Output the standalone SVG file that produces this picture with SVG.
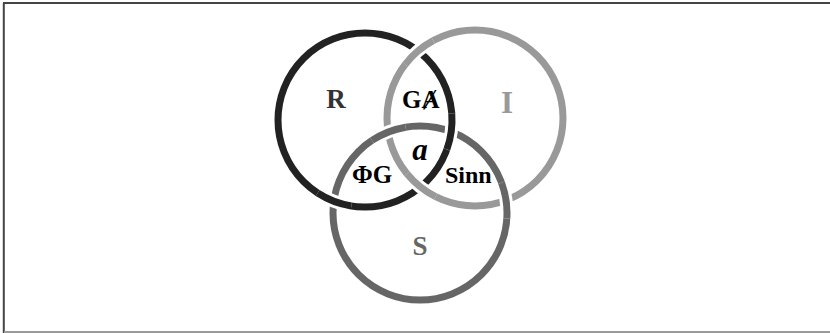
<svg xmlns="http://www.w3.org/2000/svg" width="830" height="333" viewBox="0 0 830 333">
<style>
.ring{fill:none;stroke-width:7}
.halo{fill:none;stroke:#fff;stroke-width:13}
.r{stroke:#222}
.i{stroke:#999}
.s{stroke:#666}
.lbl{font-family:"Liberation Serif","DejaVu Serif",serif;font-weight:bold}
</style>
<rect x="0" y="0" width="830" height="333" fill="#fff"/>
<g id="frame">
<line x1="3" y1="3" x2="830" y2="3" stroke="#444" stroke-width="2"/>
<line x1="3.8" y1="3" x2="3.8" y2="333" stroke="#444" stroke-width="2"/>
<line x1="4" y1="332" x2="830" y2="332" stroke="#999" stroke-width="2"/>
</g>
<g id="connectors">
<circle class="ring s" cx="420" cy="213" r="87"/>
<circle class="ring r" cx="365" cy="120" r="87"/>
<circle class="ring i" cx="475" cy="118" r="88"/>
<!-- I over R -->
<circle class="halo" r="88" stroke-dasharray="36.9 600" transform="translate(475 118) rotate(217.6)"/>
<circle class="ring i" r="88" stroke-dasharray="36.9 600" transform="translate(475 118) rotate(217.6)"/>
<circle class="halo" r="88" stroke-dasharray="36.9 600" transform="translate(475 118) rotate(116.6)"/>
<circle class="ring i" r="88" stroke-dasharray="36.9 600" transform="translate(475 118) rotate(116.6)"/>
<!-- R over S -->
<circle class="halo" r="87" stroke-dasharray="36.4 600" transform="translate(365 120) rotate(99)"/>
<circle class="ring r" r="87" stroke-dasharray="36.4 600" transform="translate(365 120) rotate(99)"/>
<circle class="halo" r="87" stroke-dasharray="36.4 600" transform="translate(365 120) rotate(-4.2)"/>
<circle class="ring r" r="87" stroke-dasharray="36.4 600" transform="translate(365 120) rotate(-4.2)"/>
<!-- S over I -->
<circle class="halo" r="87" stroke-dasharray="36.4 600" transform="translate(420 213) rotate(236.5)"/>
<circle class="ring s" r="87" stroke-dasharray="36.4 600" transform="translate(420 213) rotate(236.5)"/>
<circle class="halo" r="87" stroke-dasharray="36.4 600" transform="translate(420 213) rotate(-20.4)"/>
<circle class="ring s" r="87" stroke-dasharray="36.4 600" transform="translate(420 213) rotate(-20.4)"/>
</g>
<g id="node-R"><text class="lbl" x="336" y="108" font-size="27" fill="#333" text-anchor="middle">R</text></g>
<g id="node-I"><text class="lbl" x="507" y="113" font-size="31" fill="#999" text-anchor="middle">I</text></g>
<g id="node-S"><text class="lbl" x="420" y="255" font-size="27" fill="#666" text-anchor="middle">S</text></g>
<g id="node-GA"><text class="lbl" x="402" y="108" font-size="25" fill="#000">GȺ</text></g>
<g id="node-a"><text class="lbl" x="420" y="160" font-size="31" fill="#000" font-style="italic" text-anchor="middle">a</text></g>
<g id="node-PhiG"><text class="lbl" x="352" y="183" font-size="25" fill="#000">ΦG</text></g>
<g id="node-Sinn"><text class="lbl" x="445" y="183" font-size="24" fill="#000">Sinn</text></g>
</svg>
